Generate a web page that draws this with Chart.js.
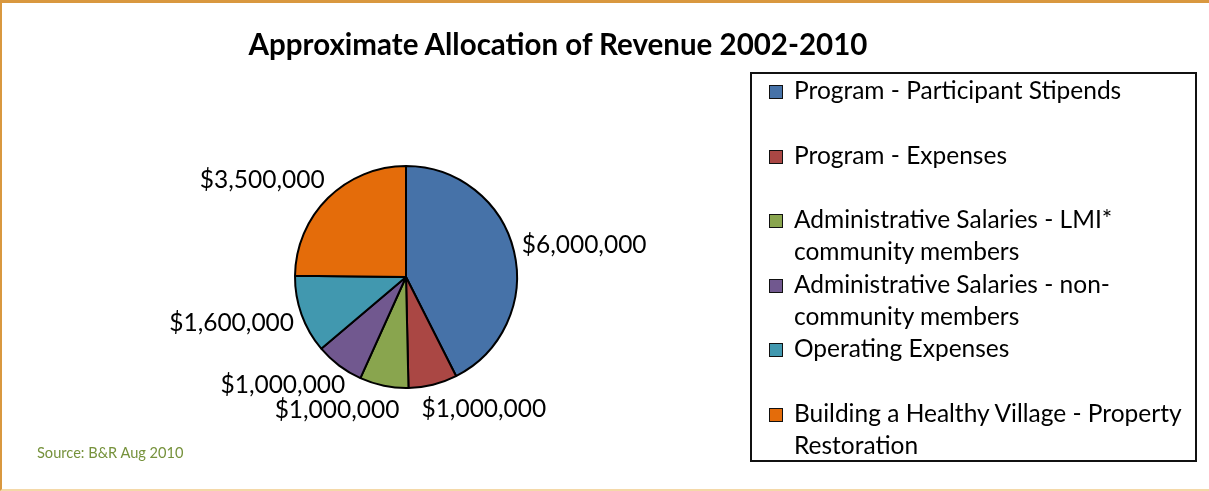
<!DOCTYPE html>
<html>
<head>
<meta charset="utf-8">
<script src="https://cdn.jsdelivr.net/npm/chart.js@4.4.0/dist/chart.umd.min.js"></script>
<style>
  html,body{margin:0;padding:0;background:#fff;}
  body{width:1209px;height:491px;position:relative;overflow:hidden;font-family:Lato,'Open Sans',sans-serif;}
  #frame{position:absolute;left:0;top:0;width:1209px;height:491px;box-sizing:border-box;
    border-left:2px solid #d9983f;border-top:3px solid #d9983f;border-bottom:2px solid #f4d8a8;}
  #title{position:absolute;left:0;width:1116px;top:26px;text-align:center;font-weight:bold;font-size:29.5px;color:#000;}
  #src{position:absolute;left:37px;top:444px;font-size:14.6px;color:#76923c;}
  #lg{position:absolute;left:750px;top:72px;width:447px;height:390px;box-sizing:border-box;border:2px solid #111;padding-top:0;}
  .lg-item{height:64.6px;position:relative;}
  .lg-sw{position:absolute;left:17px;top:11px;width:12px;height:12px;border:1.5px solid #111;}
  .lg-tx{position:absolute;left:42px;top:0;width:400px;font-size:24.5px;line-height:32.3px;color:#000;}
  #wrap{position:absolute;left:0;top:0;width:1209px;height:491px;}
</style>
</head>
<body>
<div id="wrap"><canvas id="c"></canvas></div>
<div id="frame"></div>
<div id="title">Approximate Allocation of Revenue 2002-2010</div>
<div id="lg"></div>
<div id="src">Source: B&amp;R Aug 2010</div>
<script>
// categories, values and slice colours
const labels=['Program - Participant Stipends','Program - Expenses','Administrative Salaries - LMI* community members',
  'Administrative Salaries - non-community members','Operating Expenses','Building a Healthy Village - Property Restoration'];
const values=[6000000,1000000,1000000,1000000,1600000,3500000];
const colors=['#4672a8','#aa4744','#89a54e','#71588f','#4198af','#e46c0a'];

const fmt=v=>'$'+v.toLocaleString('en-US');

// legend (html so the long names wrap like the original)
const lg=document.getElementById('lg');
labels.forEach((l,i)=>{
  const d=document.createElement('div');d.className='lg-item';
  d.innerHTML=`<div class="lg-sw" style="background:${colors[i]}"></div><div class="lg-tx">${l}</div>`;
  lg.appendChild(d);
});

// value labels outside each slice, nudged apart when two collide
const outLabels={
  id:'outLabels',
  afterDatasetsDraw(chart){
    const ctx=chart.ctx,meta=chart.getDatasetMeta(0);
    ctx.save();
    ctx.font='24.5px Lato, sans-serif';
    ctx.fillStyle='#000';ctx.textAlign='center';ctx.textBaseline='middle';
    const HO=34,HC=22,GAP=8,MIN=22,K=1.37;
    const bx=meta.data.map((a,i)=>{
      const m=(a.startAngle+a.endAngle)/2,co=Math.cos(m),si=Math.sin(m);
      const t=fmt(values[i]),w=ctx.measureText(t).width,r=a.outerRadius+GAP;
      const fx=Math.max(-1,Math.min(1,K*co));
      return {t,w,x:a.x+co*r+fx*w/2,y:a.y+si*(r+HO/2)};
    });
    for(let i=0;i<bx.length;i++)for(let j=i+1;j<bx.length;j++){
      const a=bx[i],b=bx[j];
      if(Math.abs(a.y-b.y)>=HC)continue;
      const need=(a.w+b.w)/2+MIN,dx=b.x-a.x;
      if(Math.abs(dx)>=need)continue;
      const p=(need-Math.abs(dx))/2,s=dx>=0?1:-1;
      a.x-=s*p;b.x+=s*p;
    }
    bx.forEach(b=>ctx.fillText(b.t,b.x,b.y));
    ctx.restore();
  }
};

new Chart(document.getElementById('c'),{
  type:'pie',
  data:{labels,datasets:[{data:values,backgroundColor:colors,borderColor:'#000',borderWidth:2,borderAlign:'center'}]},
  options:{
    responsive:true,maintainAspectRatio:false,animation:false,
    radius:111,
    layout:{padding:{left:0,right:397,top:63,bottom:0}},
    plugins:{legend:{display:false},tooltip:{enabled:false},title:{display:false}}
  },
  plugins:[outLabels]
});
</script>
</body>
</html>
